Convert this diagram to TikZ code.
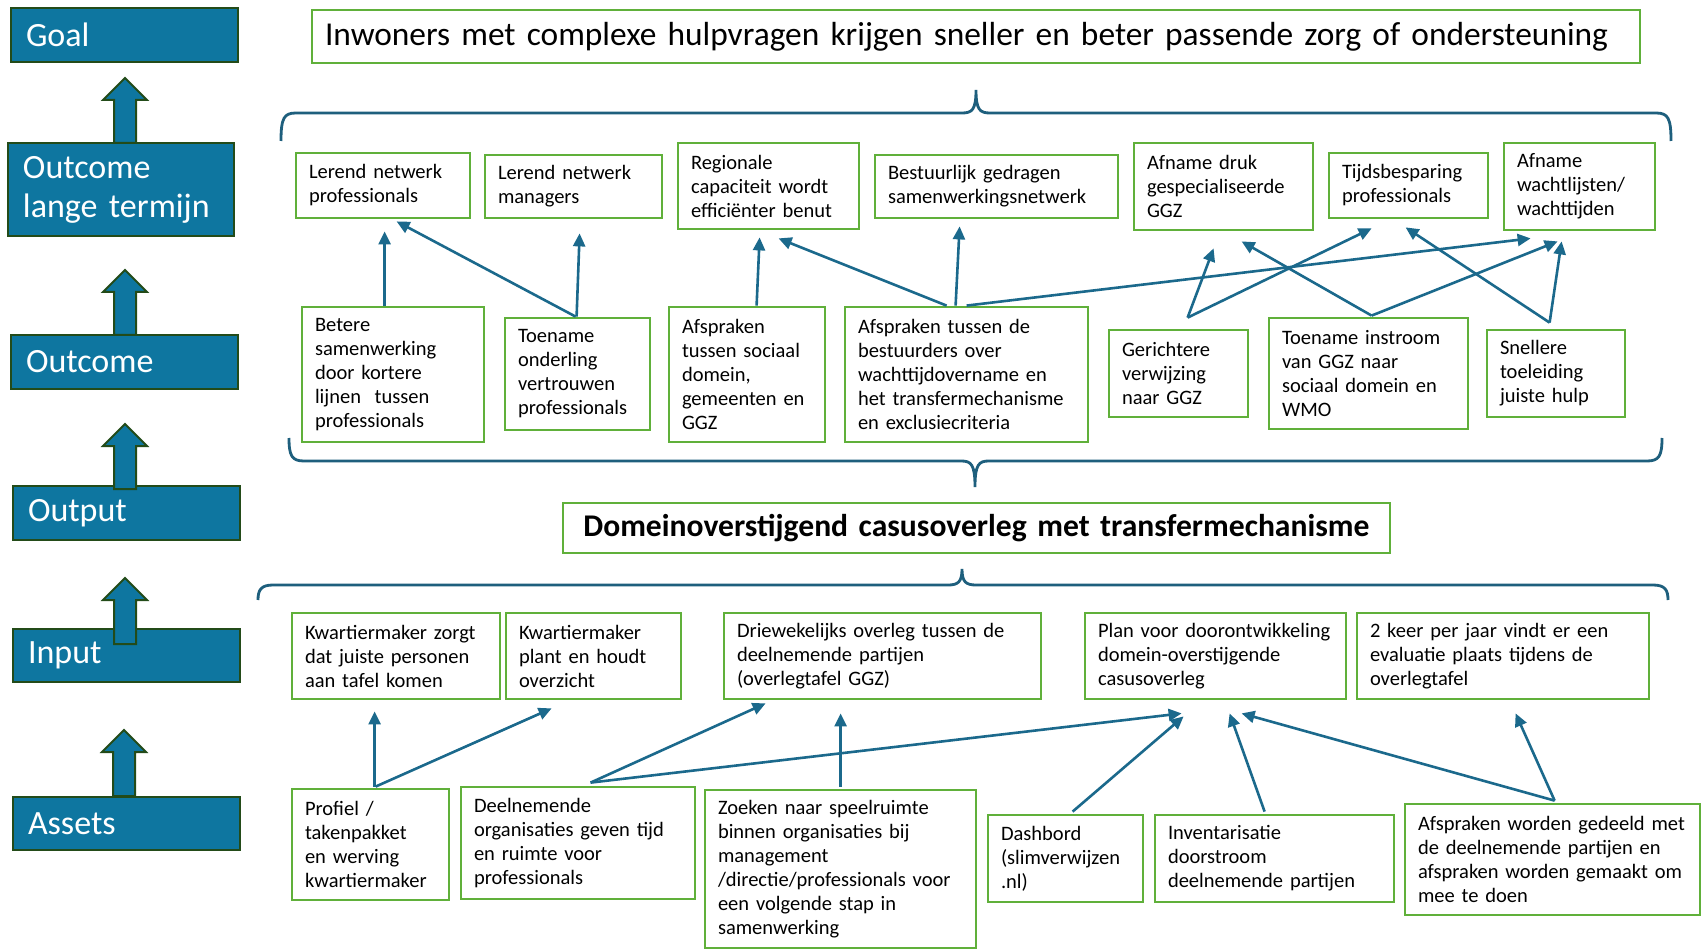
\documentclass[tikz,border=0pt]{standalone}
\usepackage{fontspec}
\setmainfont{Carlito}
\usetikzlibrary{arrows.meta}
\definecolor{labelblue}{RGB}{14,118,160}
\definecolor{darkgreen}{RGB}{35,75,25}
\definecolor{boxgreen}{RGB}{96,176,58}
\definecolor{arrowblue}{RGB}{27,105,140}
\definecolor{braceblue}{RGB}{30,95,125}
\newcommand\gfont{\fontsize{20.5}{24}\selectfont}
\newcommand\lfont{\fontsize{34}{39}\selectfont}
\newcommand\goalfont{\fontsize{33.4}{38}\selectfont}
\newcommand\outfont{\fontsize{31.6}{36}\selectfont}
\tikzset{
  gbox/.style={draw=boxgreen, line width=2.8pt, fill=white, inner xsep=13pt, inner ysep=0pt, align=left, font=\gfont},
  lbox/.style={draw=darkgreen, line width=2pt, fill=labelblue, text=white, inner xsep=15pt, inner ysep=0pt, align=left, font=\lfont},
  conn/.style={draw=arrowblue, line width=2.6pt, -{Triangle[length=13pt,width=12pt]}},
  brace/.style={draw=braceblue, line width=2.8pt},
  barrow/.style={draw=darkgreen, line width=2pt, fill=labelblue, line join=miter},
}
% name, cx, cy, W, H, text
\newcommand\gnode[6]{\pgfmathsetmacro\tw{#4-26}%
  \node[gbox, minimum width=#4pt, minimum height=#5pt, text width=\tw pt] (#1) at (#2,#3) {#6};}
\newcommand\blockarr[4]{%
  \draw[barrow] (#1,#2) -- (#1+22,#3) -- (#1+11,#3) -- (#1+11,#4) -- (#1-11,#4) -- (#1-11,#3) -- (#1-22,#3) -- cycle;}
\begin{document}
\begin{tikzpicture}[x=1pt,y=-1pt]
\useasboundingbox (0,0) rectangle (1703,949);
\fill[white] (0,0) rectangle (1703,949);

% left labels
\node[lbox, minimum width=227pt, minimum height=54pt, text width=197pt] (lgoal) at (124.5,35) {Goal};
\node[lbox, minimum width=226pt, minimum height=93pt, text width=196pt] (llt) at (121,189.5) {Outcome\\lange termijn};
\node[lbox, minimum width=227pt, minimum height=54pt, text width=197pt] (lout) at (124.5,362) {Outcome};
\node[lbox, minimum width=227pt, minimum height=54pt, text width=197pt] (loutput) at (126.5,513) {Output};
\node[lbox, minimum width=227pt, minimum height=53pt, text width=197pt] (linput) at (126.5,655.5) {Input};
\node[lbox, minimum width=227pt, minimum height=53pt, text width=197pt] (lassets) at (126.5,823.5) {Assets};
\blockarr{125}{78}{100}{143}
\blockarr{125}{270}{292}{335}
\blockarr{125}{424}{446}{489}
\blockarr{125}{578}{600}{644}
\blockarr{124}{730}{752}{796}

% goal
\node[gbox, font=\goalfont, minimum width=1328pt, minimum height=53pt, text width=1302pt] (goal) at (976,36.5) {Inwoners met complexe hulpvragen krijgen sneller en beter passende zorg of ondersteuning};

% braces
\draw[brace] (281,141) .. controls (281,118) and (284,113) .. (296,113) -- (962,113) .. controls (972,113) and (976,110) .. (976,90) .. controls (976,110) and (980,113) .. (990,113) -- (1656,113) .. controls (1668,113) and (1671,118) .. (1671,141);
\draw[brace] (289,438) .. controls (289,456) and (292,461) .. (304,461) -- (961,461) .. controls (971,461) and (975,464) .. (975,487) .. controls (975,464) and (979,461) .. (989,461) -- (1647,461) .. controls (1659,461) and (1662,456) .. (1662,438);
\draw[brace] (258,600) .. controls (258,590) and (261,585) .. (273,585) -- (948,585) .. controls (958,585) and (962,582) .. (962,569) .. controls (962,582) and (966,585) .. (976,585) -- (1653,585) .. controls (1665,585) and (1668,590) .. (1668,600);

% outcome long term
\gnode{lt1}{383}{185.5}{174}{65}{Lerend netwerk\\professionals}
\gnode{lt2}{573.5}{186.5}{177}{63}{Lerend netwerk\\managers}
\gnode{lt3}{768.5}{186}{181}{86}{Regionale\\capaciteit wordt\\efficiënter benut}
\gnode{lt4}{996.5}{186.5}{243}{63}{Bestuurlijk gedragen\\samenwerkingsnetwerk}
\gnode{lt5}{1223.5}{186.5}{179}{87}{Afname druk\\gespecialiseerde\\GGZ}
\gnode{lt6}{1408.5}{185.5}{159}{65}{Tijdsbesparing\\professionals}
\gnode{lt7}{1579.5}{186.5}{151}{87}{Afname\\wachtlijsten/\\wachttijden}

% outcome
\gnode{o1}{393}{374.5}{182}{135}{Betere\\samenwerking\\door kortere\\lijnen~ tussen\\professionals}
\gnode{o2}{577.5}{374}{145}{112}{Toename\\onderling\\vertrouwen\\professionals}
\gnode{o3}{747}{374.5}{156}{135}{Afspraken\\tussen sociaal\\domein,\\gemeenten en\\GGZ}
\gnode{o4}{966.5}{374.5}{243}{135}{Afspraken tussen de\\bestuurders over\\wachttijdovername en\\het transfermechanisme\\en exclusiecriteria}
\gnode{o5}{1178.5}{373.5}{139}{87}{Gerichtere\\verwijzing\\naar GGZ}
\gnode{o6}{1368.5}{373.5}{199}{111}{Toename instroom\\van GGZ naar\\sociaal domein en\\WMO}
\gnode{o7}{1556}{373.5}{138}{87}{Snellere\\toeleiding\\juiste hulp}

% output
\node[gbox, font=\outfont\bfseries, align=center, minimum width=827pt, minimum height=50pt, text width=801pt] (output) at (976.5,528) {Domeinoverstijgend casusoverleg met transfermechanisme};

% input
\gnode{i1}{396}{656}{208}{86}{Kwartiermaker zorgt\\dat juiste personen\\aan tafel komen}
\gnode{i2}{593.5}{656}{175}{86}{Kwartiermaker\\plant en houdt\\overzicht}
\gnode{i3}{882.5}{656}{317}{86}{Driewekelijks overleg tussen de\\deelnemende partijen\\(overlegtafel GGZ)}
\gnode{i4}{1215.5}{656}{261}{86}{Plan voor doorontwikkeling\\domein-overstijgende\\casusoverleg}
\gnode{i5}{1503}{656}{292}{86}{2 keer per jaar vindt er een\\evaluatie plaats tijdens de\\overlegtafel}

% assets
\gnode{a1}{370.5}{844.5}{157}{111}{Profiel /\\takenpakket\\en werving\\kwartiermaker}
\gnode{a2}{578}{843}{234}{112}{Deelnemende\\organisaties geven tijd\\en ruimte voor\\professionals}
\gnode{a3}{840.5}{869}{271}{158}{Zoeken naar speelruimte\\binnen organisaties bij\\management\\/directie/professionals voor\\een volgende stap in\\samenwerking}
\gnode{a4}{1065.5}{858.5}{155}{87}{Dashbord\\(slimverwijzen\\.nl)}
\gnode{a5}{1274.5}{858.5}{239}{87}{Inventarisatie\\doorstroom\\deelnemende partijen}
\gnode{a6}{1552.5}{859.5}{295}{111}{Afspraken worden gedeeld met\\de deelnemende partijen en\\afspraken worden gemaakt om\\mee te doen}

% connectors outcome -> long term
\draw[conn] ([xshift=84pt]o1.north west) -- ([xshift=90pt,yshift=-12pt]lt1.south west);
\draw[conn] ([xshift=72pt]o2.north west) -- ([xshift=102pt,yshift=-2pt]lt1.south west);
\draw[conn] ([xshift=73pt]o2.north west) -- ([xshift=96pt,yshift=-14pt]lt2.south west);
\draw[conn] ([xshift=89pt]o3.north west) -- ([xshift=83pt,yshift=-7pt]lt3.south west);
\draw[conn] ([xshift=103pt]o4.north west) -- ([xshift=102pt,yshift=-8pt]lt3.south west);
\draw[conn] ([xshift=112pt]o4.north west) -- ([xshift=86pt,yshift=-7pt]lt4.south west);
\draw[conn] ([xshift=123pt]o4.north west) -- ([xshift=28pt,yshift=-7pt]lt7.south west);
\draw[conn] ([xshift=80pt,yshift=11pt]o5.north west) -- ([xshift=81pt,yshift=-17pt]lt5.south west);
\draw[conn] ([xshift=80pt,yshift=11pt]o5.north west) -- ([xshift=44pt,yshift=-9pt]lt6.south west);
\draw[conn] ([xshift=104pt,yshift=1pt]o6.north west) -- ([xshift=109pt,yshift=-10pt]lt5.south west);
\draw[conn] ([xshift=104pt,yshift=1pt]o6.north west) -- ([xshift=55pt,yshift=-10pt]lt7.south west);
\draw[conn] ([xshift=64pt,yshift=6pt]o7.north west) -- ([xshift=78pt,yshift=-8pt]lt6.south west);
\draw[conn] ([xshift=64pt,yshift=6pt]o7.north west) -- ([xshift=59pt,yshift=-10pt]lt7.south west);

% connectors assets -> input
\draw[conn] ([xshift=84pt,yshift=1pt]a1.north west) -- ([xshift=84pt,yshift=-11pt]i1.south west);
\draw[conn] ([xshift=85pt,yshift=1pt]a1.north west) -- ([xshift=47pt,yshift=-8pt]i2.south west);
\draw[conn] ([xshift=131pt,yshift=3pt]a2.north west) -- ([xshift=43pt,yshift=-3pt]i3.south west);
\draw[conn] ([xshift=131pt,yshift=3pt]a2.north west) -- ([xshift=98pt,yshift=-13pt]i4.south west);
\draw[conn] ([xshift=137pt,yshift=2pt]a3.north west) -- ([xshift=118pt,yshift=-13pt]i3.south west);
\draw[conn] ([xshift=86pt,yshift=2pt]a4.north west) -- ([xshift=100pt,yshift=-16pt]i4.south west);
\draw[conn] ([xshift=111pt,yshift=2pt]a5.north west) -- ([xshift=146pt,yshift=-13pt]i4.south west);
\draw[conn] ([xshift=151pt,yshift=2pt]a6.north west) -- ([xshift=158pt,yshift=-13pt]i4.south west);
\draw[conn] ([xshift=151pt,yshift=2pt]a6.north west) -- ([xshift=160pt,yshift=-13pt]i5.south west);
\end{tikzpicture}
\end{document}
